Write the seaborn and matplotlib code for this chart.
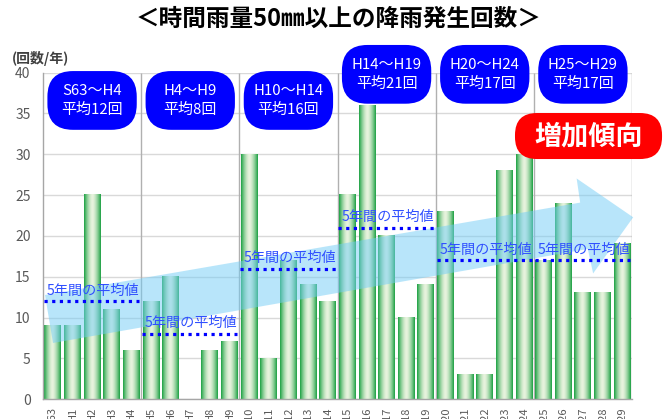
import numpy as np
import pandas as pd
import matplotlib
matplotlib.use("Agg")
import matplotlib.pyplot as plt
from matplotlib.patches import FancyBboxPatch, Polygon
import seaborn as sns

# Annual number of hourly rainfalls of 50 mm or more
years = ["S63", "H1", "H2", "H3", "H4", "H5", "H6", "H7", "H8", "H9",
         "H10", "H11", "H12", "H13", "H14", "H15", "H16", "H17", "H18", "H19",
         "H20", "H21", "H22", "H23", "H24", "H25", "H26", "H27", "H28", "H29"]
counts = [9, 9, 25, 11, 6, 12, 15, 0, 6, 7,
          30, 5, 17, 14, 12, 25, 36, 20, 10, 14,
          23, 3, 3, 28, 30, 17, 24, 13, 13, 19]

# Five-year periods and their averages
periods = ["S63～H4", "H4～H9", "H10～H14", "H14～H19", "H20～H24", "H25～H29"]
period_avg = [12, 8, 16, 21, 17, 17]
avg_label = "5年間の平均値"

title = "＜時間雨量50㎜以上の降雨発生回数＞"
ylabel = "(回数/年)"
trend_label = "増加傾向"

sns.set_style("white")
plt.rcParams["font.family"] = ["Noto Sans CJK JP", "DejaVu Sans"]

W, H = 670, 419
fig = plt.figure(figsize=(W / 100, H / 100), dpi=100)
ax_l, ax_r, ax_t, ax_b = 43, 632, 72.7, 399.1
ax = fig.add_axes([ax_l / W, 1 - ax_b / H, (ax_r - ax_l) / W, (ax_b - ax_t) / H])

df = pd.DataFrame({"year": years, "count": counts})
sns.barplot(data=df, x="year", y="count", order=years, color="#4cb860",
            width=0.86, ax=ax, zorder=2)

# green cylinder-like shading for every bar
n = 64
t = np.linspace(-1, 1, n)
prof = np.abs(t) ** 1.6
edge = np.array([0.11, 0.63, 0.26])
center = np.array([0.91, 0.955, 0.87])
grad = (center[None, :] * (1 - prof[:, None]) + edge[None, :] * prof[:, None])[None, :, :]
for p in ax.patches:
    x0, y0 = p.get_x(), p.get_y()
    w, h = p.get_width(), p.get_height()
    p.set_facecolor("none")
    p.set_edgecolor("none")
    if h > 0:
        ax.imshow(grad, extent=[x0, x0 + w, y0, y0 + h], aspect="auto",
                  interpolation="bilinear", zorder=2)

ncat = len(years)
ax.set_xlim(-0.5, ncat - 0.5)
ax.set_ylim(0, 40)
ax.set_yticks(np.arange(0, 41, 5))
ax.set_xticks(range(ncat))
ax.set_xticklabels(years, rotation=90, va="top", ha="center")
ax.tick_params(axis="x", length=0, pad=5.5, labelsize=8, labelcolor="#595959")
ax.tick_params(axis="y", length=0, pad=9, labelsize=10, labelcolor="#595959")
ax.set_xlabel("")
ax.set_ylabel("")
ax.yaxis.grid(True, color="#d9d9d9", lw=1)
ax.set_axisbelow(True)
for s in ["top", "right"]:
    ax.spines[s].set_visible(False)
for s in ["left", "bottom"]:
    ax.spines[s].set_color("#a6a6a6")
    ax.spines[s].set_linewidth(1)

# period separators
bounds = [5 * k + 4.5 for k in range(len(periods))]
ax.vlines(bounds, 0, 40, colors="#b0b0b0", lw=1, zorder=1.5)

# trend arrow (axes fraction)
arrow_pts = [(0.0034, 0.319), (0.912, 0.602), (0.906, 0.676), (1.002, 0.557),
             (0.934, 0.385), (0.925, 0.460), (0.017, 0.172)]
ax.add_patch(Polygon(arrow_pts, closed=True, transform=ax.transAxes,
                     fc="#72cdf6", ec="none", alpha=0.5, zorder=3, clip_on=False))

# five-year average lines
for k, a in enumerate(period_avg):
    s = 5 * k - 0.45
    e = 5 * k + 4.4
    ax.hlines(a, s, e, colors="#0000ff", lw=2.3, linestyles=(0, (1, 1.4)),
              zorder=4)
    ax.text(5 * k - 0.3, a + 0.45, avg_label, color="#3050ff", fontsize=10.2,
            ha="left", va="bottom", zorder=4)

# rounded label boxes
fig.canvas.draw()
bb = ax.get_window_extent()
asp = (bb.width / ncat) / (bb.height / 40)


def bubble(x0, y0, w, h, r, color, z=6):
    ax.add_patch(FancyBboxPatch((x0, y0), w, h,
                                boxstyle=f"round,pad=0,rounding_size={r}",
                                mutation_aspect=asp, fc=color, ec="none",
                                clip_on=False, zorder=z))


for k, (lab, a) in enumerate(zip(periods, period_avg)):
    cx = 5 * k + 2
    y0, y1 = (33.0, 40.2) if k < 3 else (36.2, 43.4)
    bw = 4.55
    bubble(cx - bw / 2, y0, bw, y1 - y0, 1.3, "#0000ff")
    ax.text(cx, (y0 + y1) / 2, f"{lab}\n平均{a}回", color="white",
            fontsize=10.8, ha="center", va="center", linespacing=1.4,
            zorder=7, clip_on=False)

bubble(23.54, 29.42, 7.49, 5.64, 1.12, "#ff0000")
ax.text((23.54 + 31.03) / 2, (29.42 + 35.06) / 2 - 0.1, trend_label,
        color="white", fontsize=19.5, fontweight="bold", ha="center",
        va="center", zorder=7, clip_on=False)

fig.text(339 / W, 1 - 19 / H, title, ha="center", va="center", fontsize=17,
         fontweight="bold", color="black")
fig.text(12 / W, 1 - 58 / H, ylabel, ha="left", va="center", fontsize=10,
         fontweight="bold", color="#404040")

fig.savefig("out.png", dpi=100)
